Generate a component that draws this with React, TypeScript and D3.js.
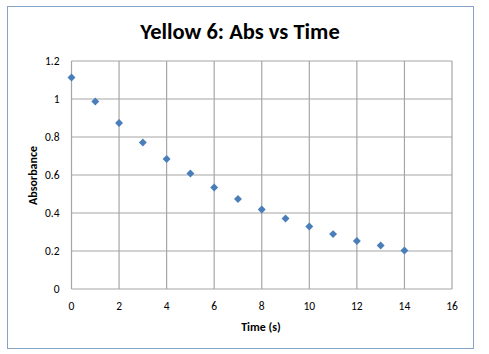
import { useEffect, useRef } from 'react';
import * as d3 from 'd3';

const times = [0, 1, 2, 3, 4, 5, 6, 7, 8, 9, 10, 11, 12, 13, 14];
const absorbance = [1.113, 0.987, 0.874, 0.771, 0.684, 0.608, 0.534, 0.474, 0.418, 0.371, 0.329, 0.289, 0.253, 0.229, 0.203];
const xTicks = [0, 2, 4, 6, 8, 10, 12, 14, 16];
const yTicks = [0, 0.2, 0.4, 0.6, 0.8, 1, 1.2];

export default function App() {
  const svgRef = useRef<SVGSVGElement>(null);
  const width = 489;
  const height = 354;

  useEffect(() => {
    if (!svgRef.current) return;
    const svg = d3.select(svgRef.current);
    svg.selectAll('*').remove();

    const font = 'Calibri, Carlito, "Open Sans", "Liberation Sans", sans-serif';
    const margin = { top: 61, right: 37, bottom: 65, left: 71.5 };
    const innerWidth = width - margin.left - margin.right;
    const innerHeight = height - margin.top - margin.bottom;

    // outer chart border
    svg.append('rect')
      .attr('x', 7.5)
      .attr('y', 6.5)
      .attr('width', 466)
      .attr('height', 342)
      .attr('fill', '#fff')
      .attr('stroke', '#86a3c8')
      .attr('stroke-width', 1);

    const x = d3.scaleLinear().domain([0, 16]).range([0, innerWidth]);
    const y = d3.scaleLinear().domain([0, 1.2]).range([innerHeight, 0]);

    const g = svg.append('g')
      .attr('transform', `translate(${margin.left},${margin.top})`);

    // gridlines
    g.append('g')
      .selectAll('line')
      .data(xTicks)
      .join('line')
      .attr('x1', d => x(d))
      .attr('x2', d => x(d))
      .attr('y1', 0)
      .attr('y2', innerHeight)
      .attr('stroke', '#a6a6a6')
      .attr('stroke-width', 1.2);

    g.append('g')
      .selectAll('line')
      .data(yTicks)
      .join('line')
      .attr('x1', 0)
      .attr('x2', innerWidth)
      .attr('y1', d => y(d))
      .attr('y2', d => y(d))
      .attr('stroke', '#a6a6a6')
      .attr('stroke-width', 1.2);

    // tick labels
    g.append('g')
      .selectAll('text')
      .data(xTicks)
      .join('text')
      .attr('x', d => x(d))
      .attr('y', innerHeight + 21)
      .attr('text-anchor', 'middle')
      .attr('font-family', font)
      .attr('font-size', '11.5px')
      .attr('fill', '#000')
      .text(d => String(d));

    g.append('g')
      .selectAll('text')
      .data(yTicks)
      .join('text')
      .attr('x', -12)
      .attr('y', d => y(d) + 4)
      .attr('text-anchor', 'end')
      .attr('font-family', font)
      .attr('font-size', '11.5px')
      .attr('fill', '#000')
      .text(d => String(d));

    // points
    const diamond = d3.symbol().type(d3.symbolDiamond2).size(40);
    g.append('g')
      .selectAll('path')
      .data(times.map((t, i) => ({ t, v: absorbance[i] })))
      .join('path')
      .attr('d', diamond)
      .attr('transform', d => `translate(${x(d.t)},${y(d.v)})`)
      .attr('fill', '#4a7ebb');

    // title
    svg.append('text')
      .attr('x', 240)
      .attr('y', 39)
      .attr('text-anchor', 'middle')
      .attr('font-family', font)
      .attr('font-size', '22.5px')
      .attr('font-weight', 'bold')
      .attr('fill', '#000')
      .text('Yellow 6: Abs vs Time');

    // axis titles
    svg.append('text')
      .attr('x', 261)
      .attr('y', 331)
      .attr('text-anchor', 'middle')
      .attr('font-family', font)
      .attr('font-size', '12px')
      .attr('font-weight', 'bold')
      .attr('fill', '#000')
      .text('Time (s)');

    svg.append('text')
      .attr('transform', 'rotate(-90)')
      .attr('x', -175.5)
      .attr('y', 37)
      .attr('text-anchor', 'middle')
      .attr('font-family', font)
      .attr('font-size', '12px')
      .attr('font-weight', 'bold')
      .attr('fill', '#000')
      .text('Absorbance');
  }, []);

  return (
    <svg
      ref={svgRef}
      width={width}
      height={height}
      style={{ position: 'absolute', left: 0, top: 0, background: '#fff' }}
    />
  );
}
